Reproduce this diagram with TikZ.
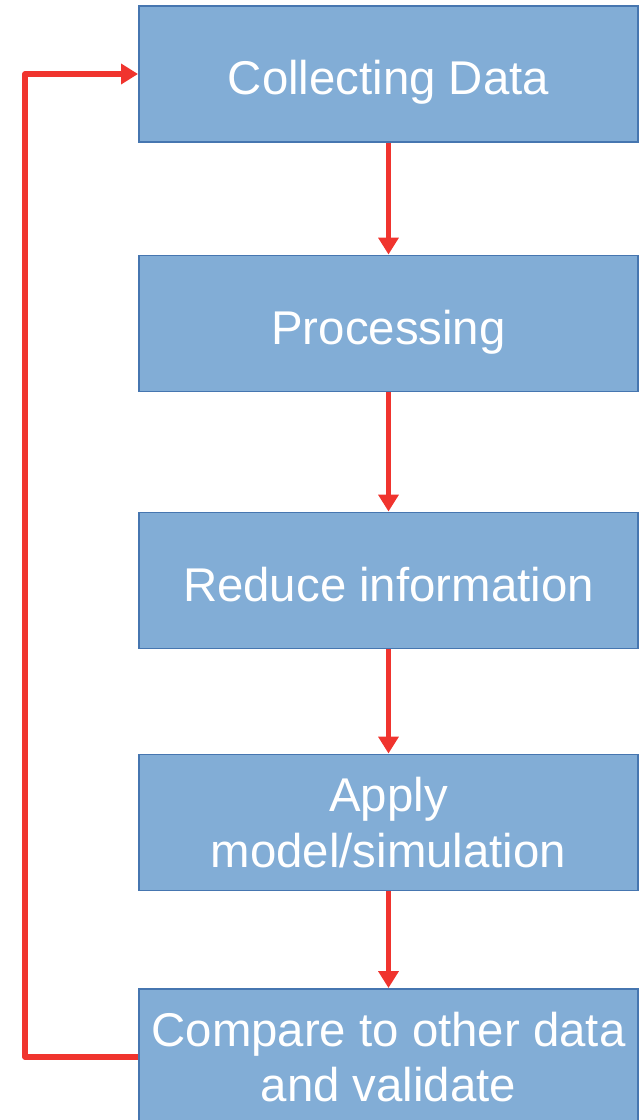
\documentclass[tikz,border=0pt]{standalone}
\usepackage{fontspec}
\setmainfont{Liberation Sans}
\usetikzlibrary{arrows.meta}
\definecolor{boxfill}{RGB}{130,173,214}
\definecolor{boxline}{RGB}{70,118,176}
\definecolor{flowred}{RGB}{240,52,46}
\begin{document}
\begin{tikzpicture}[
  stage/.style={draw=boxline,line width=1.4pt,fill=boxfill,text=white,
    minimum width=12.475cm,minimum height=3.4cm,inner sep=0pt,align=center,
    font=\fontsize{33.7}{39.7}\selectfont},
  oneline/.style={text height=37pt,text depth=7.4pt},
  flow/.style={draw=flowred,line width=3.6pt,line join=round,
    -{Triangle[width=14pt,length=12pt]}}]
  \useasboundingbox (0,0) rectangle (16,-28);
  \begin{scope}
  \clip (0,0) rectangle (16,-28);
  \node[stage,oneline] (collect) at (9.7125,-1.85) {Collecting Data};
  \node[stage,oneline] (process) at (9.7125,-8.0875) {Processing};
  \node[stage,oneline] (reduce) at (9.7125,-14.5125) {Reduce information};
  \node[stage] (model) at (9.7125,-20.5625) {Apply\\model/simulation};
  \node[stage] (compare) at (9.7125,-26.425) {Compare to other data\\and validate};
  \coordinate (turn) at (0.625,-26.425);

  \draw[flow] (collect) -- (process);
  \draw[flow] (process) -- (reduce);
  \draw[flow] (reduce) -- (model);
  \draw[flow] (model) -- (compare);
  \draw[flow] (compare.west) -- (turn) |- (collect.west);
  \end{scope}
\end{tikzpicture}
\end{document}
